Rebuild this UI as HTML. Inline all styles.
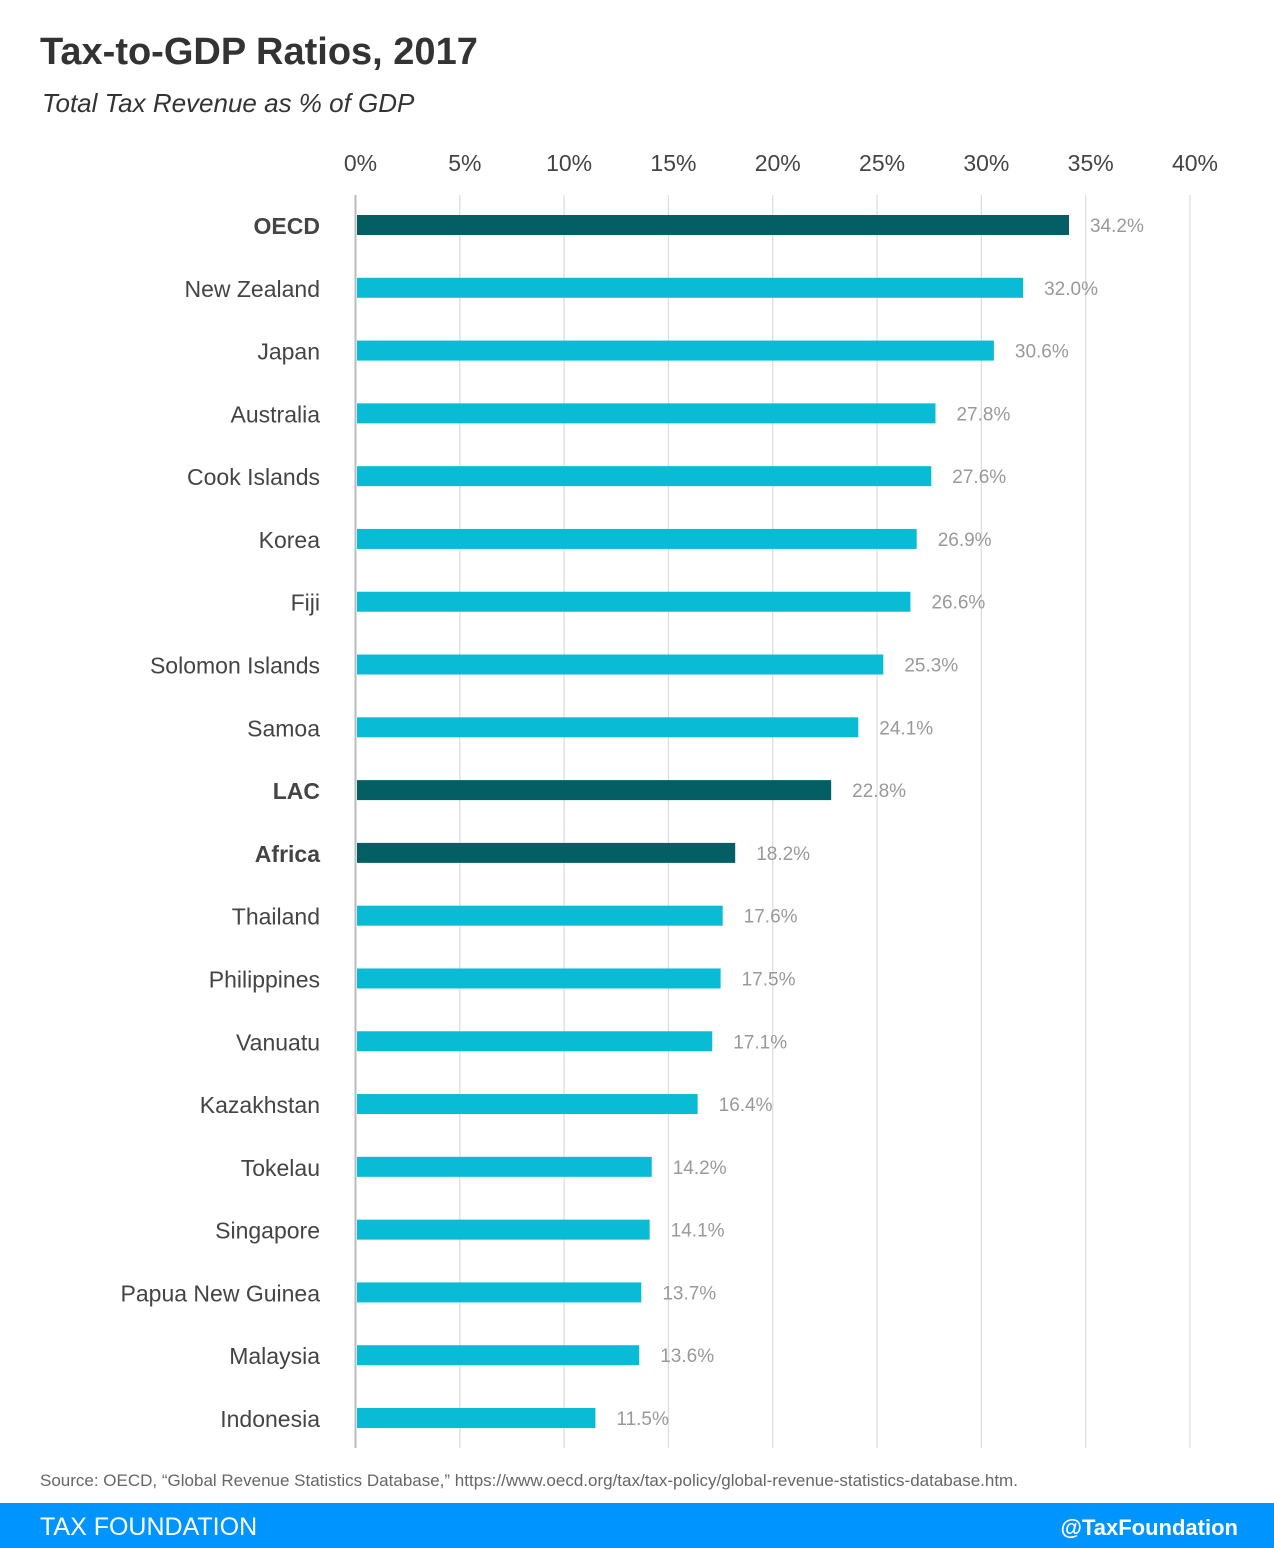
<!DOCTYPE html>
<html><head><meta charset="utf-8"><style>
body{margin:0;background:#fff;font-family:"Liberation Sans",sans-serif}
#wrap{position:relative;width:1274px;height:1548px;overflow:hidden}
</style></head><body>
<div id="wrap">
<svg id="chart" width="1274" height="1548" style="position:absolute;left:0;top:0">
<text x="40" y="64" font-size="38" font-weight="bold" fill="#333">Tax-to-GDP Ratios, 2017</text>
<text x="42" y="112" font-size="26" font-style="italic" fill="#333">Total Tax Revenue as % of GDP</text>
<g id="grid"></g><g id="bars"></g>
<text x="40" y="1486" font-size="17" fill="#666">Source: OECD, “Global Revenue Statistics Database,” https://www.oecd.org/tax/tax-policy/global-revenue-statistics-database.htm.</text>
<rect x="0" y="1503" width="1274" height="45" fill="#0094ff"/>
<text x="40" y="1535" font-size="25" fill="#fff">TAX FOUNDATION</text>
<text x="1238" y="1535" font-size="22" font-weight="bold" fill="#fff" text-anchor="end">@TaxFoundation</text>
</svg>
</div>
<script>
const categories=["OECD","New Zealand","Japan","Australia","Cook Islands","Korea","Fiji","Solomon Islands","Samoa","LAC","Africa","Thailand","Philippines","Vanuatu","Kazakhstan","Tokelau","Singapore","Papua New Guinea","Malaysia","Indonesia"];
const values=[34.2,32.0,30.6,27.8,27.6,26.9,26.6,25.3,24.1,22.8,18.2,17.6,17.5,17.1,16.4,14.2,14.1,13.7,13.6,11.5];
const aggregates=["OECD","LAC","Africa"];
const ticks=[0,5,10,15,20,25,30,35,40];
const NS="http://www.w3.org/2000/svg";
const x=v=>355.5+v*(1190-355.5)/40;
const y=i=>225+i*(1418-225)/19;
function mk(t,a,p){const e=document.createElementNS(NS,t);for(const k in a)e.setAttribute(k,a[k]);p.appendChild(e);return e;}
const g=document.getElementById('grid'),b=document.getElementById('bars');
ticks.forEach(t=>{
 const l=mk('line',{x1:x(t),x2:x(t),y1:195,y2:1448,stroke:t===0?'#bbb':'#ddd','stroke-width':t===0?2:1.3},g);
 
 
 const tx=mk('text',{x:x(t)+5,y:171,'font-size':23,fill:'#444','text-anchor':'middle'},g);
 tx.textContent=t+'%';
 
 
});
categories.forEach((c,i)=>{
 const agg=aggregates.includes(c);
 const r=mk('rect',{x:357,y:y(i)-10,width:x(values[i])-357,height:20,fill:agg?'#035f63':'#0abbd6'},b);
 
 
 const lb=mk('text',{x:320,y:y(i)+9,'font-size':23,fill:'#444','text-anchor':'end','font-weight':agg?'bold':'normal'},b);
 lb.textContent=c;
 
 
 const vl=mk('text',{x:x(values[i])+21,y:y(i)+7,'font-size':19,fill:'#999'},b);
 vl.textContent=values[i].toFixed(1)+'%';
 
 
});
</script>
</body></html>
